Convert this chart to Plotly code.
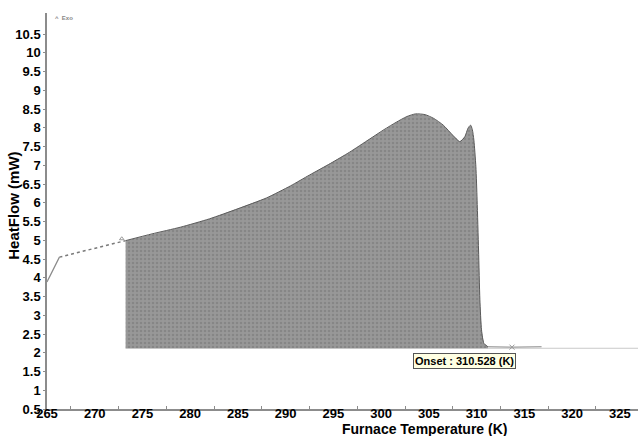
import plotly.graph_objects as go

# DSC heat-flow trace (furnace temperature in K, heat flow in mW)
lead_T = [265.0, 266.3]
lead_Q = [3.89, 4.55]

ramp_T = [266.3, 273.23]
ramp_Q = [4.55, 4.99]

peak_T = [273.23, 276.0, 279.0, 282.0, 285.0, 288.0, 290.5, 292.5, 294.7, 296.7,
          298.8, 300.3, 301.6, 302.7, 303.6, 304.6, 305.5, 306.5, 307.5,
          308.24, 308.76, 309.1, 309.36, 309.55, 309.71, 309.92, 310.05, 310.2,
          310.34, 310.51, 310.76, 311.18]
peak_Q = [4.99, 5.17, 5.35, 5.57, 5.84, 6.13, 6.45, 6.74, 7.05, 7.35,
          7.70, 7.95, 8.15, 8.30, 8.37, 8.35, 8.25, 8.07, 7.80,
          7.63, 7.76, 7.99, 8.07, 7.95, 7.67, 6.96, 6.07, 4.74,
          3.41, 2.61, 2.25, 2.16]

tail_T = [311.18, 313.7, 316.8]
tail_Q = [2.16, 2.15, 2.16]

baseline_T = [273.23, 326.9]
baseline_Q = [2.12, 2.12]

onset_T = 310.528
x_ticks = [265, 270, 275, 280, 285, 290, 295, 300, 305, 310, 315, 320, 325]
y_ticks = [0.5, 1, 1.5, 2, 2.5, 3, 3.5, 4, 4.5, 5, 5.5, 6, 6.5, 7, 7.5, 8, 8.5,
           9, 9.5, 10, 10.5]

FAMILY = "Liberation Sans, Arial, sans-serif"
tick_font = dict(family=FAMILY, size=13, color="black", weight="bold")

fig = go.Figure()

# baseline under the integrated peak
fig.add_trace(go.Scatter(x=baseline_T, y=baseline_Q, mode="lines",
                         line=dict(color="#c9c9c9", width=1), hoverinfo="skip"))

# shaded peak area: curve on top, closed along the baseline
fill_x = peak_T + [peak_T[-1], peak_T[0]]
fill_y = peak_Q + [baseline_Q[0], baseline_Q[0]]
fig.add_trace(go.Scatter(x=fill_x, y=fill_y, mode="lines", fill="toself",
                         fillcolor="#939393",
                         fillpattern=dict(shape=".", bgcolor="#989898", fgcolor="#747474",
                                          size=4, solidity=0.3),
                         line=dict(width=0), hoverinfo="skip"))
# smooth outline of the peak
fig.add_trace(go.Scatter(x=peak_T, y=peak_Q, mode="lines",
                         line=dict(color="#5a5a5a", width=1, shape="spline", smoothing=0.6),
                         hoverinfo="skip"))

fig.add_trace(go.Scatter(x=lead_T, y=lead_Q, mode="lines",
                         line=dict(color="#8a8a8a", width=1.2)))
fig.add_trace(go.Scatter(x=ramp_T, y=ramp_Q, mode="lines",
                         line=dict(color="#7a7a7a", width=1.5, dash="dot")))
fig.add_trace(go.Scatter(x=tail_T, y=tail_Q, mode="lines",
                         line=dict(color="#8a8a8a", width=1)))

# integration limit markers
fig.add_trace(go.Scatter(x=[ramp_T[-1] - 0.4], y=[ramp_Q[-1] + 0.05], mode="markers",
                         marker=dict(symbol="triangle-up-open", size=4, color="#9a9a9a",
                                     line=dict(width=1, color="#9a9a9a"))))
fig.add_trace(go.Scatter(x=[tail_T[1]], y=[tail_Q[1]], mode="markers",
                         marker=dict(symbol="x-thin-open", size=5, color="#9a9a9a",
                                     line=dict(width=1, color="#9a9a9a"))))

fig.update_layout(
    width=638, height=436,
    margin=dict(l=47, r=0, t=13, b=27),
    paper_bgcolor="white", plot_bgcolor="white",
    showlegend=False,
    font=tick_font,
    xaxis=dict(range=[265, 326.9], tickvals=x_ticks, ticks="", showgrid=False, zeroline=False,
               showline=True, linecolor="#8c8c8c", linewidth=1.5,
               tickfont=tick_font, ticklabelstandoff=-8,
               minor=dict(tick0=267.5, dtick=5, ticks="inside", ticklen=3,
                          tickcolor="#8c8c8c", showgrid=False)),
    yaxis=dict(range=[0.5, 11.06], tickvals=y_ticks, ticks="outside", ticklen=2,
               tickcolor="#8c8c8c", showgrid=False, zeroline=False,
               showline=True, linecolor="#8c8c8c", linewidth=1.5,
               tickfont=tick_font, ticklabelstandoff=0),
    annotations=[
        dict(text="Furnace Temperature (K)", xref="paper", yref="paper",
             x=0.639, y=-0.051, xanchor="center", yanchor="middle", showarrow=False,
             font=dict(family=FAMILY, size=14, color="black", weight="bold")),
        dict(text="HeatFlow (mW)", xref="paper", yref="paper", textangle=-90,
             x=-0.056, y=0.513, xanchor="center", yanchor="middle", showarrow=False,
             font=dict(family=FAMILY, size=15, color="black", weight="bold")),
        dict(text="Onset : %.3f (K)" % onset_T, x=308.7, y=1.79, xref="x", yref="y",
             xanchor="center", yanchor="middle", showarrow=False,
             bgcolor="#ffffe3", bordercolor="#555555", borderwidth=1, borderpad=1,
             font=dict(family=FAMILY, size=11, color="black", weight="bold")),
        dict(text="^  Exo", xref="paper", yref="paper", x=0.01, y=1.0,
             xanchor="left", yanchor="top", showarrow=False,
             font=dict(family=FAMILY, size=6, color="#888888")),
    ],
)

fig.write_html("out.html")
